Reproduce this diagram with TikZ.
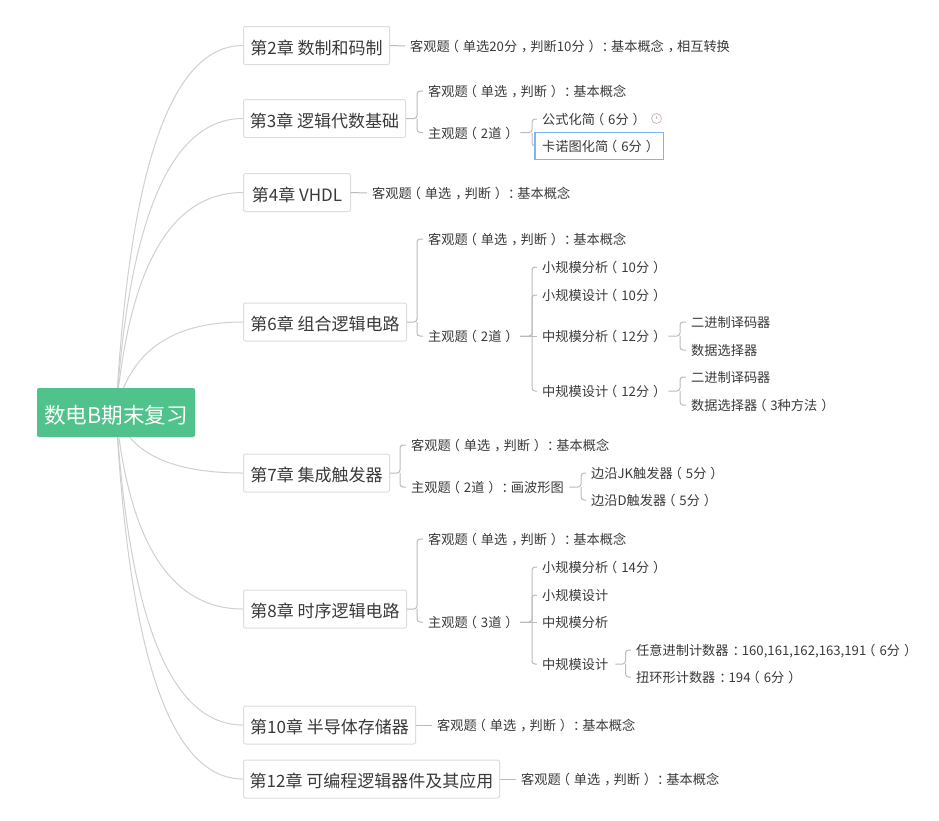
\documentclass[tikz,border=0pt]{standalone}
\usepackage{fontspec}
\setmainfont{Noto Sans CJK SC}
\definecolor{rootfill}{HTML}{50C28B}
\definecolor{txt}{HTML}{3A3A3A}
\definecolor{curve}{HTML}{D0D0D0}
\definecolor{stem}{HTML}{BBBBBB}
\definecolor{boxline}{HTML}{DDDDDD}
\definecolor{hilite}{RGB}{125,180,245}
\definecolor{iconline}{HTML}{C9BDBD}
% full-width punctuation sits mid-cell in the reference
\catcode`（=\active \protected\def（{\kern-.3em\char"FF08\kern.3em}
\catcode`）=\active \protected\def）{\kern.3em\char"FF09\kern-.3em}
\catcode`，=\active \protected\def，{\kern.3em\char"FF0C\kern-.3em}
\catcode`：=\active \protected\def：{\kern.3em\char"FF1A\kern-.3em}
\tikzset{
  x=1pt,y=-1pt,
  rootnode/.style={draw=none,fill=rootfill,rounded corners=2pt,text=white,minimum width=158pt,minimum height=49pt,inner sep=0pt,text height=24pt,text depth=3pt,font=\fontsize{21.6}{26}\selectfont},
  chap/.style={draw=boxline,fill=white,line width=1pt,rounded corners=2pt,anchor=west,text=txt,minimum height=38pt,inner sep=0pt,text height=19.5pt,text depth=2pt,font=\fontsize{17}{20}\selectfont},
  leaf/.style={anchor=west,inner xsep=5pt,inner ysep=1pt,text=txt,text height=12pt,text depth=1pt,font=\fontsize{13.2}{16}\selectfont},
  hilitebox/.style={draw=none,fill=white,minimum height=26pt,anchor=west,inner xsep=7pt,inner ysep=0pt,text=txt,text height=12pt,text depth=1pt,font=\fontsize{13.2}{16}\selectfont},
  rootedge/.style={draw=curve,line width=1pt},
  branch/.style={draw=stem,line width=1pt,rounded corners=3pt},
  note/.style={circle,draw=iconline,line width=.8pt,fill=white,minimum size=10pt,inner sep=0pt}
}
\begin{document}
\begin{tikzpicture}
\useasboundingbox (0,0) rectangle (939,820);
\fill[white] (0,0) rectangle (939,820);
\coordinate (rc) at (116,412.5);
% nodes
\node[chap,minimum width=146pt] (c2) at (243,45.5) {第2章 数制和码制};
\node[chap,minimum width=162pt] (c3) at (243,118.5) {第3章 逻辑代数基础};
\node[chap,minimum width=107pt] (c4) at (243,192.5) {第4章 VHDL};
\node[chap,minimum width=163pt] (c6) at (243,322) {第6章 组合逻辑电路};
\node[chap,minimum width=146pt] (c7) at (243,473) {第7章 集成触发器};
\node[chap,minimum width=163pt] (c8) at (243,609) {第8章 时序逻辑电路};
\node[chap,minimum width=172pt] (c10) at (243,725) {第10章 半导体存储器};
\node[chap,minimum width=256pt] (c12) at (243,779) {第12章 可编程逻辑器件及其应用};
% root curves
\foreach \n/\a/\y in {c2/168/45.5,c3/217/118.5,c4/266/192.5,c6/352/322,c7/453/473,c8/543/609,c10/621/725,c12/657/779}{
  \draw[rootedge] (rc) .. controls (129,\a) and (171,\y) .. (\n.west);
}
\node[rootnode] (root) at (rc) {数电B期末复习};
% chapter 2
\node[leaf] (k2) at (405,46) {客观题（单选20分，判断10分）：基本概念，相互转换};
\draw[branch] (c2.east) -- (k2.west);
% chapter 3
\node[leaf] (k3) at (423,91) {客观题（单选，判断）：基本概念};
\node[leaf,text width=87pt] (z3) at (423,132.5) {主观题（2道）};
\coordinate (b3) at (417,118.5);
\draw[branch] (c3.east) -- (b3) |- (k3.west);
\draw[branch] (b3) |- (z3.west);
\node[leaf] (g3) at (537,119) {公式化简（6分）};
\node[hilitebox] (h3) at (535,146) {\makebox[114pt][l]{卡诺图化简（6分）}};
\draw[hilite,line width=1.2pt] (h3.south west) rectangle (h3.north east);
\coordinate (b3z) at (532,132.5);
\draw[branch] (z3.east) -- (b3z) |- (g3.west);
\draw[branch] (b3z) |- (h3.west);
\node[note] (icon) at (656.5,118.5) {};
\draw[draw=iconline,line width=.8pt] (icon.center) ++(0,-2.5) -- ++(0,3);
% chapter 4
\node[leaf] (k4) at (367,193) {客观题（单选，判断）：基本概念};
\draw[branch] (c4.east) -- (k4.west);
% chapter 6
\node[leaf] (k6) at (423,239) {客观题（单选，判断）：基本概念};
\node[leaf,text width=87pt] (z6) at (423,336) {主观题（2道）};
\coordinate (b6) at (417,322);
\draw[branch] (c6.east) -- (b6) |- (k6.west);
\draw[branch] (b6) |- (z6.west);
\node[leaf] (a6) at (537,267) {小规模分析（10分）};
\node[leaf] (d6) at (537,295) {小规模设计（10分）};
\node[leaf,text width=121pt] (e6) at (537,336) {中规模分析（12分）};
\node[leaf,text width=121pt] (f6) at (537,391) {中规模设计（12分）};
\coordinate (b6z) at (532,336);
\draw[branch] (z6.east) -- (b6z) |- (a6.west);
\draw[branch] (b6z) |- (d6.west);
\draw[branch] (z6.east) -- (e6.west);
\draw[branch] (b6z) |- (f6.west);
\node[leaf] (e6a) at (686,322) {二进制译码器};
\node[leaf] (e6b) at (686,350) {数据选择器};
\coordinate (be6) at (680,336);
\draw[branch] (e6.east) -- (be6) |- (e6a.west);
\draw[branch] (be6) |- (e6b.west);
\node[leaf] (f6a) at (686,377) {二进制译码器};
\node[leaf] (f6b) at (686,405) {数据选择器（3种方法）};
\coordinate (bf6) at (680,391);
\draw[branch] (f6.east) -- (bf6) |- (f6a.west);
\draw[branch] (bf6) |- (f6b.west);
% chapter 7
\node[leaf] (k7) at (406,445) {客观题（单选，判断）：基本概念};
\node[leaf,text width=153pt] (z7) at (406,487) {主观题（2道）：画波形图};
\coordinate (b7) at (400,473);
\draw[branch] (c7.east) -- (b7) |- (k7.west);
\draw[branch] (b7) |- (z7.west);
\node[leaf] (a7) at (586,473) {边沿JK触发器（5分）};
\node[leaf] (d7) at (586,500) {边沿D触发器（5分）};
\coordinate (b7z) at (581,487);
\draw[branch] (z7.east) -- (b7z) |- (a7.west);
\draw[branch] (b7z) |- (d7.west);
% chapter 8
\node[leaf] (k8) at (423,539) {客观题（单选，判断）：基本概念};
\node[leaf,text width=87pt] (z8) at (423,622) {主观题（3道）};
\coordinate (b8) at (417,609);
\draw[branch] (c8.east) -- (b8) |- (k8.west);
\draw[branch] (b8) |- (z8.west);
\node[leaf] (a8) at (537,567) {小规模分析（14分）};
\node[leaf] (d8) at (537,595) {小规模设计};
\node[leaf] (e8) at (537,622) {中规模分析};
\node[leaf,text width=68pt] (f8) at (537,664) {中规模设计};
\coordinate (b8z) at (532,622);
\draw[branch] (z8.east) -- (b8z) |- (a8.west);
\draw[branch] (b8z) |- (d8.west);
\draw[branch] (z8.east) -- (e8.west);
\draw[branch] (b8z) |- (f8.west);
\node[leaf] (f8a) at (631,650) {任意进制计数器：160,161,162,163,191（6分）};
\node[leaf] (f8b) at (631,677) {扭环形计数器：194（6分）};
\coordinate (bf8) at (625.5,664);
\draw[branch] (f8.east) -- (bf8) |- (f8a.west);
\draw[branch] (bf8) |- (f8b.west);
% chapter 10, 12
\node[leaf] (k10) at (432,725) {客观题（单选，判断）：基本概念};
\draw[branch] (c10.east) -- (k10.west);
\node[leaf] (k12) at (516,779) {客观题（单选，判断）：基本概念};
\draw[branch] (c12.east) -- (k12.west);
\end{tikzpicture}
\end{document}
